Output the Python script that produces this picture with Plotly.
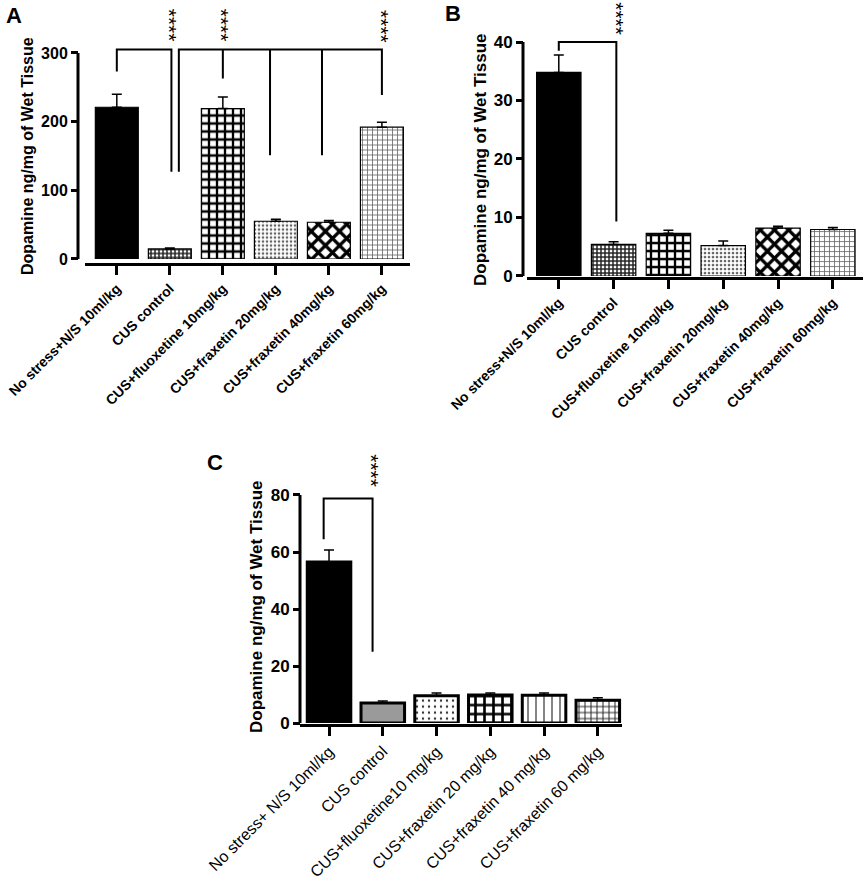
import plotly.graph_objects as go

W, H = 865, 879
FONT = "Liberation Sans"

# ---- data ----
groups_ab = ["No stress+N/S 10ml/kg", "CUS control", "CUS+fluoxetine 10mg/kg",
             "CUS+fraxetin 20mg/kg", "CUS+fraxetin 40mg/kg", "CUS+fraxetin 60mg/kg"]
groups_c = ["No stress+ N/S 10ml/kg", "CUS control", "CUS+fluoxetine10 mg/kg",
            "CUS+fraxetin 20 mg/kg", "CUS+fraxetin 40 mg/kg", "CUS+fraxetin 60 mg/kg"]

mean_a = [221, 14.7, 219, 55, 53.5, 192]
sem_a = [19, 1.5, 17, 3, 2.5, 7]
mean_b = [34.8, 5.4, 7.3, 5.2, 8.2, 7.95]
sem_b = [3.0, 0.45, 0.5, 0.8, 0.3, 0.35]
mean_c = [56.5, 7.0, 9.6, 9.8, 9.7, 8.0]
sem_c = [4.2, 0.7, 0.9, 0.7, 0.8, 0.9]

# significance brackets (category position, value); None splits segments
bracket_a_x = [0, 0, 1.03, 1.03, None, 1.17, 1.17, 5, 5, None,
               2, 2, None, 2.89, 2.89, None, 3.87, 3.87]
bracket_a_y = [273, 305, 305, 127, None, 127, 305, 305, 239, None,
               263, 305, None, 151, 305, None, 151, 305]
bracket_b_x = [0, 0, 1.05, 1.05]
bracket_b_y = [38.5, 40, 40, 9.3]
bracket_c_x = [-0.1, -0.1, 0.81, 0.81]
bracket_c_y = [64.5, 78.8, 78.8, 25]

stars_a_x = [1.0, 1.98, 4.98]
stars_a_y = [340, 340, 338]
stars_b_x = [1.05]
stars_b_y = [44.0]
stars_c_x = [0.79]
stars_c_y = [88.5]


def fx(px):
    return px / W


def fy(py):
    return 1 - py / H


# bar fill styles (GraphPad-like patterns)
style_ab = dict(
    color=["black", "white", "white", "white", "white", "white"],
    shape=["", "+", "+", ".", "x", "+"],
    fg=["black", "#222222", "black", "#666666", "black", "#666666"],
    size=[8, 4, 8, 4, 10, 5],
    solidity=[0.3, 0.6, 0.5, 0.35, 0.55, 0.3],
    lw=1.2,
)
style_c = dict(
    color=["black", "#9a9a9a", "white", "white", "white", "white"],
    shape=["", "", ".", "+", "|", "+"],
    fg=["black", "black", "#333333", "black", "black", "#222222"],
    size=[8, 8, 6, 9, 8, 6],
    solidity=[0.3, 0.3, 0.12, 0.5, 0.12, 0.3],
    lw=3,
)

# panel geometry in pixels
panels = [
    dict(letter="A", groups=groups_ab, mean=mean_a, sem=sem_a, style=style_ab,
         bx=bracket_a_x, by=bracket_a_y, sx=stars_a_x, sy=stars_a_y,
         yline=78, zero=259, top=53, topval=300, dtick=100, ymax=308,
         xline=264, xl=85, xr=410, xrange=[-0.6, 5.53], bold=True,
         tick_size=14, num_size=16, title_xy=(28, 156), title_size=16,
         letter_xy=(14, 16)),
    dict(letter="B", groups=groups_ab, mean=mean_b, sem=sem_b, style=style_ab,
         bx=bracket_b_x, by=bracket_b_y, sx=stars_b_x, sy=stars_b_y,
         yline=523, zero=276, top=42, topval=40, dtick=10, ymax=40.5,
         xline=278, xl=527, xr=863, xrange=[-0.58, 5.55], bold=True,
         tick_size=14, num_size=17, title_xy=(480, 159), title_size=17,
         letter_xy=(453, 13)),
    dict(letter="C", groups=groups_c, mean=mean_c, sem=sem_c, style=style_c,
         bx=bracket_c_x, by=bracket_c_y, sx=stars_c_x, sy=stars_c_y,
         yline=300, zero=723, top=495, topval=80, dtick=20, ymax=80.5,
         xline=725, xl=300, xr=622, xrange=[-0.54, 5.45], bold=False,
         tick_size=16, num_size=17, title_xy=(256, 607), title_size=17,
         letter_xy=(215, 462)),
]

fig = go.Figure()
layout = dict(
    width=W, height=H, margin=dict(l=0, r=0, t=0, b=0, autoexpand=False),
    paper_bgcolor="white", plot_bgcolor="white", showlegend=False,
    font=dict(family=FONT, color="black"),
    barmode="overlay",
)
annotations = []
shapes = []

for i, p in enumerate(panels):
    n = "" if i == 0 else str(i + 1)
    xa, ya = "x" + n, "y" + n
    st = p["style"]
    ppu = (p["zero"] - p["top"]) / p["topval"]
    dom_top = p["zero"] - p["ymax"] * ppu

    for k in range(6):
        pattern = dict(shape=st["shape"][k])
        if st["shape"][k]:
            pattern.update(fgcolor=st["fg"][k], bgcolor=st["color"][k],
                           size=st["size"][k], solidity=st["solidity"][k],
                           fillmode="replace")
        fig.add_trace(go.Bar(
            x=[k], y=[p["mean"][k]], xaxis=xa, yaxis=ya, width=0.81,
            marker=dict(color=st["color"][k],
                        line=dict(color="black", width=st["lw"]),
                        pattern=pattern),
            error_y=dict(type="data", symmetric=False, array=[p["sem"][k]],
                         arrayminus=[0], color="black", thickness=1.5, width=5),
        ))
    fig.add_trace(go.Scatter(
        x=p["bx"], y=p["by"], xaxis=xa, yaxis=ya, mode="lines",
        line=dict(color="black", width=2), hoverinfo="skip", connectgaps=False,
    ))

    weight = "bold" if p["bold"] else "normal"
    layout["xaxis" + n] = dict(
        domain=[fx(p["xl"]), fx(p["xr"])], range=p["xrange"],
        anchor="free", position=fy(p["xline"]), automargin=False,
        tickmode="array", tickvals=list(range(6)), ticktext=p["groups"],
        tickangle=-45, ticks="outside", ticklen=9, tickwidth=3, tickcolor="black",
        ticklabeloverflow="allow",
        showline=True, linewidth=3, linecolor="black", showgrid=False, zeroline=False,
        tickfont=dict(family=FONT, size=p["tick_size"], color="black", weight=weight),
    )
    layout["yaxis" + n] = dict(
        domain=[fy(p["zero"]), fy(dom_top)], range=[0, p["ymax"]],
        anchor="free", position=fx(p["yline"]), automargin=False,
        tickmode="linear", tick0=0, dtick=p["dtick"],
        ticks="outside", ticklen=7, tickwidth=3, tickcolor="black",
        showline=False, showgrid=False, zeroline=False,
        tickfont=dict(family=FONT, size=p["num_size"], color="black", weight="bold"),
    )
    # y-axis line only up to the top tick
    shapes.append(dict(type="line", xref="paper", yref=ya,
                       x0=fx(p["yline"]), x1=fx(p["yline"]), y0=0, y1=p["topval"],
                       line=dict(color="black", width=3)))

    # significance stars sit above the axis range, so place them in paper units
    for sx, sy in zip(p["sx"], p["sy"]):
        annotations.append(dict(x=sx, y=fy(p["zero"] - sy * ppu), xref=xa, yref="paper",
                                text="****", textangle=90, showarrow=False,
                                xanchor="center", yanchor="middle",
                                font=dict(family=FONT, size=21, color="black")))

    tx, ty = p["title_xy"]
    annotations.append(dict(x=fx(tx), y=fy(ty), xref="paper", yref="paper",
                            text="Dopamine ng/mg of Wet Tissue", textangle=-90,
                            showarrow=False, xanchor="center", yanchor="middle",
                            font=dict(family=FONT, size=p["title_size"], color="black",
                                      weight="bold")))
    lx, ly = p["letter_xy"]
    annotations.append(dict(x=fx(lx), y=fy(ly), xref="paper", yref="paper",
                            text=p["letter"], showarrow=False,
                            xanchor="center", yanchor="middle",
                            font=dict(family=FONT, size=22, color="black", weight="bold")))

layout["annotations"] = annotations
layout["shapes"] = shapes
fig.update_layout(**layout)

# drop the default page margin so the figure fills the window exactly
fig.write_html("out.html", config={"displayModeBar": False},
               post_script="document.body.style.margin = '0';")
